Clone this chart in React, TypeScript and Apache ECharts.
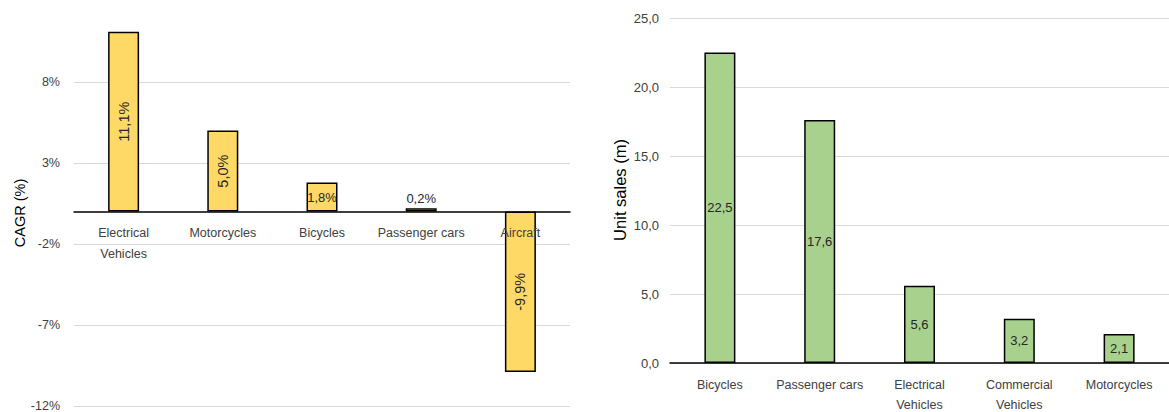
import React, { useEffect, useRef } from "react";
import * as echarts from "echarts";

const cagrCategories = ["Electrical\nVehicles", "Motorcycles", "Bicycles", "Passenger cars", "Aircraft"];
const cagrValues = [11.1, 5.0, 1.8, 0.2, -9.9];
const cagrTicks = [-12, -7, -2, 3, 8];
const cagrMin = -12;
const cagrMax = 13;

const salesCategories = ["Bicycles", "Passenger cars", "Electrical\nVehicles", "Commercial\nVehicles", "Motorcycles"];
const salesValues = [22.5, 17.6, 5.6, 3.2, 2.1];

const FONT = "'Liberation Sans', Arial, sans-serif";
const fmt1 = (v: number) => v.toFixed(1).replace(".", ",");

const LEFT_TOP = 1;
const LEFT_HEIGHT = 405;

export default function App() {
  const ref = useRef<HTMLDivElement>(null);
  useEffect(() => {
    document.body.style.margin = "0";
    if (!ref.current) return;
    const chart = echarts.init(ref.current, undefined, { renderer: "svg" });

    const cagrData = cagrValues.map((v) => {
      const a = Math.abs(v);
      let label: any;
      if (a >= 5) {
        label = { show: true, position: "inside", rotate: 90, fontSize: 14.5 };
      } else if (a >= 1) {
        label = { show: true, position: "inside", fontSize: 13 };
      } else {
        label = { show: true, position: "top", fontSize: 13, distance: 3 };
      }
      return { value: v, label };
    });

    // shift the category axis up from the grid bottom to the zero line
    const zeroOffset = -(LEFT_HEIGHT * (0 - cagrMin)) / (cagrMax - cagrMin);

    const option: any = {
      animation: false,
      textStyle: { fontFamily: FONT },
      grid: [
        { left: 74, top: LEFT_TOP, width: 496, height: LEFT_HEIGHT, outerBoundsMode: "none", containLabel: false },
        { left: 670, top: 18, width: 499, height: 345, outerBoundsMode: "none", containLabel: false },
      ],
      xAxis: [
        {
          type: "category",
          gridIndex: 0,
          data: cagrCategories,
          z: 10,
          offset: zeroOffset,
          axisLine: { onZero: false, lineStyle: { color: "#000", width: 1.5 } },
          axisTick: { show: false },
          axisLabel: {
            interval: 0,
            margin: 11,
            color: "#404040",
            fontSize: 12.5,
            lineHeight: 21,
            fontFamily: FONT,
          },
        },
        {
          type: "category",
          gridIndex: 1,
          data: salesCategories,
          axisLine: { lineStyle: { color: "#000", width: 1.5 } },
          axisTick: { show: false },
          axisLabel: {
            interval: 0,
            margin: 12,
            color: "#404040",
            fontSize: 12.5,
            lineHeight: 20,
            fontFamily: FONT,
          },
        },
      ],
      yAxis: [
        {
          type: "value",
          gridIndex: 0,
          min: cagrMin,
          max: cagrMax,
          splitLine: { show: false },
          axisLine: { show: false },
          axisTick: { show: false },
          axisLabel: {
            customValues: cagrTicks,
            margin: 14,
            color: "#404040",
            fontSize: 12.5,
            fontFamily: FONT,
            formatter: (v: number) => `${v}%`,
          },
        },
        {
          type: "value",
          gridIndex: 1,
          min: 0,
          max: 25,
          interval: 5,
          splitLine: { lineStyle: { color: "#D9D9D9", width: 1 } },
          axisLine: { show: false },
          axisTick: { show: false },
          axisLabel: {
            margin: 11,
            color: "#404040",
            fontSize: 13,
            fontFamily: FONT,
            formatter: (v: number) => fmt1(v),
          },
        },
      ],
      graphic: [
        {
          type: "text",
          x: 20,
          y: 213,
          rotation: Math.PI / 2,
          style: {
            text: "CAGR (%)",
            fill: "#000",
            font: `14.5px ${FONT}`,
            textAlign: "center",
            textVerticalAlign: "middle",
          },
        },
        {
          type: "text",
          x: 620,
          y: 190,
          rotation: Math.PI / 2,
          style: {
            text: "Unit sales (m)",
            fill: "#000",
            font: `16.5px ${FONT}`,
            textAlign: "center",
            textVerticalAlign: "middle",
          },
        },
      ],
      series: [
        {
          type: "bar",
          xAxisIndex: 0,
          yAxisIndex: 0,
          barWidth: 31,
          data: cagrData,
          itemStyle: { color: "#FFD966", borderColor: "#000", borderWidth: 1.5 },
          label: {
            color: "#262626",
            fontFamily: FONT,
            formatter: (p: any) => `${fmt1(p.value)}%`,
          },
          markLine: {
            silent: true,
            z: 1,
            symbol: "none",
            label: { show: false },
            lineStyle: { color: "#D9D9D9", width: 1, type: "solid" },
            data: cagrTicks.map((v) => ({ yAxis: v })),
          },
        },
        {
          type: "bar",
          xAxisIndex: 1,
          yAxisIndex: 1,
          barWidth: 31,
          data: salesValues,
          itemStyle: { color: "#A9D18E", borderColor: "#000", borderWidth: 1.5 },
          label: {
            show: true,
            position: "inside",
            color: "#262626",
            fontSize: 13,
            fontFamily: FONT,
            formatter: (p: any) => fmt1(p.value),
          },
        },
      ],
    };
    chart.setOption(option);
    return () => chart.dispose();
  }, []);
  return <div ref={ref} style={{ width: 1169, height: 412 }} />;
}
